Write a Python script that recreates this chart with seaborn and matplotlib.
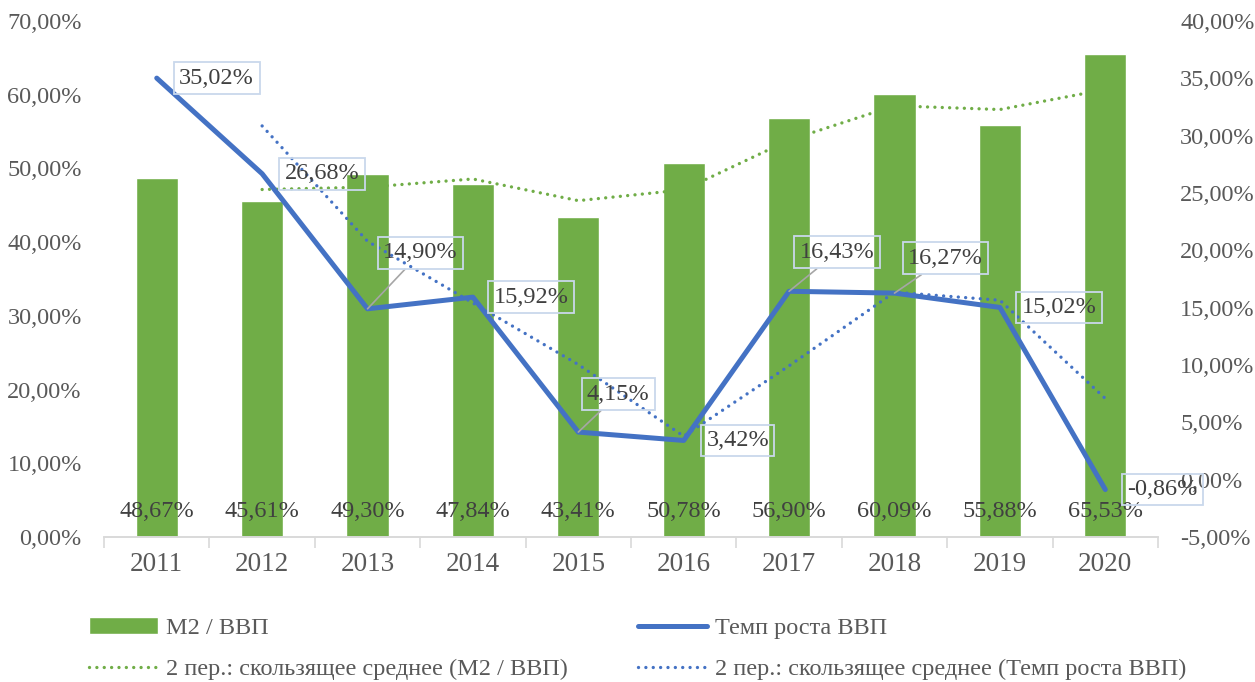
import numpy as np
import pandas as pd
import seaborn as sns
from matplotlib import pyplot as plt
from matplotlib.lines import Line2D
from matplotlib.patches import Patch

# Данные
years = ["2011", "2012", "2013", "2014", "2015", "2016", "2017", "2018", "2019", "2020"]
m2_gdp = [48.67, 45.61, 49.30, 47.84, 43.41, 50.78, 56.90, 60.09, 55.88, 65.53]
gdp_growth = [35.02, 26.68, 14.90, 15.92, 4.15, 3.42, 16.43, 16.27, 15.02, -0.86]
# скользящее среднее за 2 периода (значения с графика)
m2_ma = [np.nan, 47.14, 47.46, 48.57, 45.63, 47.10, 53.84, 58.50, 57.99, 60.71]
gdp_ma = [np.nan, 30.85, 20.79, 15.41, 10.04, 3.79, 9.93, 16.35, 15.65, 7.08]

# смещения подписей (пиксели) и нужна ли выноска
label_offsets = [(60, 0), (60, 0), (53, 56), (58, 0), (40, 38),
                 (54, 0), (48, 39), (51, 35), (59, 0), (57, 0)]
leader = [False, False, True, False, True, False, True, True, False, False]

GREEN = "#70AD47"
BLUE = "#4472C4"
TICK_COLOR = "#595959"
TEXT_COLOR = "#404040"


def pct(v):
    return f"{v:.2f}".replace(".", ",") + "%"


sns.set_theme(style="white")
plt.rcParams["font.family"] = ["Liberation Serif", "DejaVu Serif"]

df = pd.DataFrame({"year": years, "m2": m2_gdp})
x = np.arange(len(years))

fig = plt.figure(figsize=(12.55, 6.82), dpi=100)
ax = fig.add_axes([0.0829, 0.2126, 0.8398, 0.7566])

sns.barplot(data=df, x="year", y="m2", color=GREEN, saturation=1, width=0.4, ax=ax)
sns.lineplot(x=x, y=m2_ma, ax=ax, color=GREEN, lw=2.4,
             linestyle=(0, (0.01, 2.2)), dash_capstyle="round")

ax2 = ax.twinx()
sns.lineplot(x=x, y=gdp_growth, ax=ax2, color=BLUE, lw=3.6, solid_capstyle="round")
sns.lineplot(x=x, y=gdp_ma, ax=ax2, color=BLUE, lw=2.4,
             linestyle=(0, (0.01, 2.2)), dash_capstyle="round")

# подписи столбцов
for i, v in enumerate(m2_gdp):
    ax.annotate(pct(v), xy=(i, 0), xytext=(0, 26), textcoords="offset pixels",
                ha="center", va="center", fontsize=17.5, color=TEXT_COLOR)

# подписи линии
for i, v in enumerate(gdp_growth):
    arrow = dict(arrowstyle="-", color="#a6a6a6", lw=1.2, shrinkA=0, shrinkB=0) if leader[i] else None
    ax2.annotate(pct(v), xy=(i, v), xytext=label_offsets[i], textcoords="offset pixels",
                 ha="center", va="center", fontsize=17.5, color=TEXT_COLOR,
                 bbox=dict(boxstyle="square,pad=0.22", fc="none", ec="#c9d8ec", lw=1.3),
                 arrowprops=arrow, annotation_clip=False)

ax.set_xlim(-0.5, len(years) - 0.5)
ax.set_ylim(0, 70)
ax2.set_ylim(-5, 40)
ax.set_yticks(np.arange(0, 71, 10))
ax.set_yticklabels([pct(v) for v in np.arange(0, 71, 10)])
ax2.set_yticks(np.arange(-5, 41, 5))
ax2.set_yticklabels([pct(v) for v in np.arange(-5, 41, 5)])
ax.set_xlabel("")
ax.set_ylabel("")
ax2.set_ylabel("")

ax.set_xticks(np.arange(-0.5, len(years), 1), minor=True)
ax.tick_params(axis="x", which="major", length=0, pad=11, labelsize=19.5, labelcolor=TICK_COLOR)
ax.tick_params(axis="x", which="minor", bottom=True, length=8, width=1.2, color="#d9d9d9")
ax.tick_params(axis="y", length=0, pad=16, labelsize=17.5, labelcolor=TICK_COLOR)
ax2.tick_params(axis="y", length=0, pad=16, labelsize=17.5, labelcolor=TICK_COLOR)

for a in (ax, ax2):
    for s in ("top", "left", "right"):
        a.spines[s].set_visible(False)
    a.spines["bottom"].set_color("#d9d9d9")
    a.spines["bottom"].set_linewidth(1.2)

# легенда
dot = dict(lw=2.4, linestyle=(0, (0.01, 2.2)), dash_capstyle="round")
leg_kw = dict(loc="upper left", frameon=False, fontsize=17.5, handlelength=2.85,
              handletextpad=0.3, labelspacing=0.8, borderpad=0, borderaxespad=0,
              labelcolor=TICK_COLOR)
fig.legend([Patch(facecolor=GREEN), Line2D([], [], color=GREEN, **dot)],
           ["М2 / ВВП", "2 пер.: скользящее среднее (М2 / ВВП)"],
           bbox_to_anchor=(89 / 1255, 1 - 617 / 682), **leg_kw)
fig.legend([Line2D([], [], color=BLUE, lw=3.6, solid_capstyle="round"),
            Line2D([], [], color=BLUE, **dot)],
           ["Темп роста ВВП", "2 пер.: скользящее среднее (Темп роста ВВП)"],
           bbox_to_anchor=(638 / 1255, 1 - 617 / 682), **leg_kw)

fig.savefig("out.png", dpi=100)
